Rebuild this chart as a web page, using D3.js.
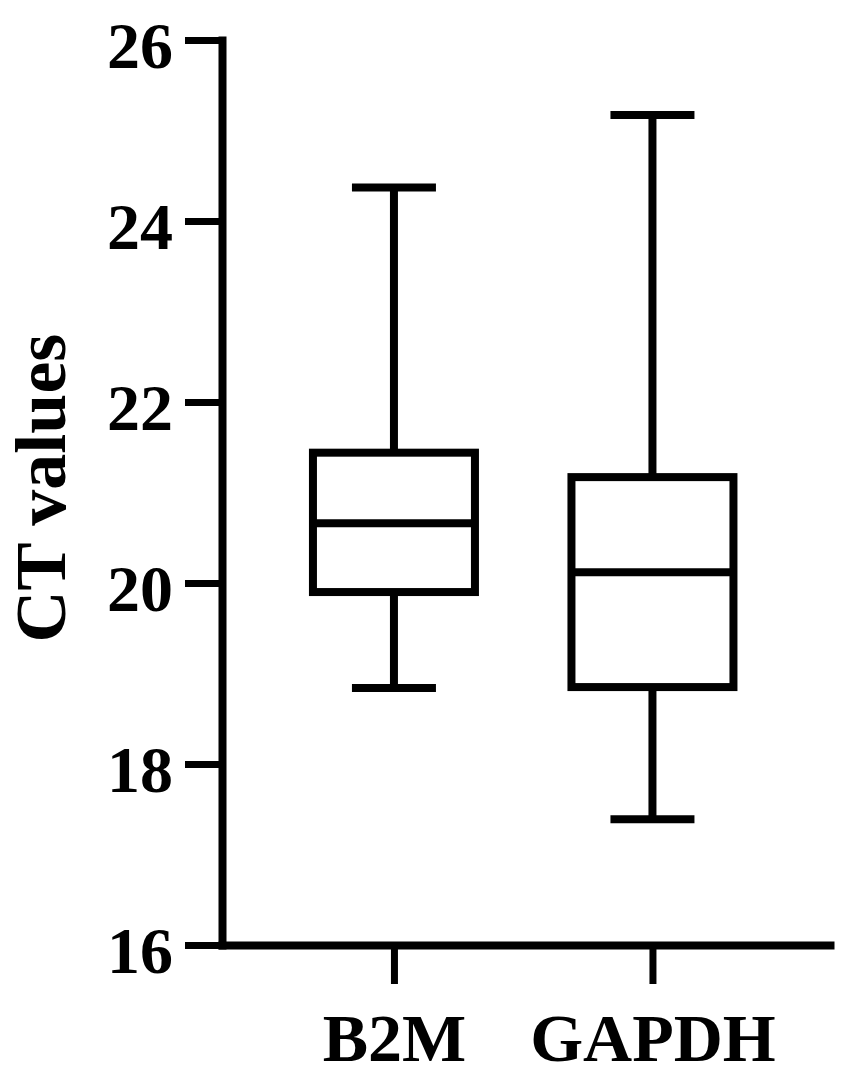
<!DOCTYPE html>
<html>
<head>
<meta charset="utf-8">
<script src="https://cdn.jsdelivr.net/npm/d3@7"></script>
<style>
  html, body { margin: 0; padding: 0; background: #fff; }
  svg { display: block; }
  text { font-family: "Liberation Serif", "Times New Roman", serif; font-weight: bold; fill: #000; }
</style>
</head>
<body>
<svg id="chart" width="841" height="1081"></svg>
<script>
// ---- data ----
const categories = ["B2M", "GAPDH"];
const mins    = [18.84, 17.39];
const q1s     = [19.90, 18.85];
const medians = [20.66, 20.12];
const q3s     = [21.44, 21.17];
const maxs    = [24.37, 25.17];
const yTicks  = [16, 18, 20, 22, 24, 26];
const yLabel  = "CT values";

// ---- layout ----
const svg = d3.select("#chart");
const axisX0 = 222, axisX1 = 830, axisYTop = 40, axisYBottom = 945;
const lw = 8;

const y = d3.scaleLinear().domain([16, 26]).range([axisYBottom, axisYTop]);
const x = d3.scalePoint().domain(categories).range([axisX0, axisX1]).padding(0.676).align(0.492);

const data = categories.map((c, i) => ({
  cat: c, min: mins[i], q1: q1s[i], med: medians[i], q3: q3s[i], max: maxs[i]
}));

const boxHalf = 81, capHalf = 42;

const g = svg.append("g");

data.forEach(d => {
  const cx = x(d.cat);
  // whiskers
  g.append("line").attr("x1", cx).attr("x2", cx).attr("y1", y(d.max)).attr("y2", y(d.q3))
    .attr("stroke", "#000").attr("stroke-width", lw);
  g.append("line").attr("x1", cx).attr("x2", cx).attr("y1", y(d.q1)).attr("y2", y(d.min))
    .attr("stroke", "#000").attr("stroke-width", lw);
  // caps
  [d.max, d.min].forEach(v => {
    g.append("line").attr("x1", cx - capHalf).attr("x2", cx + capHalf).attr("y1", y(v)).attr("y2", y(v))
      .attr("stroke", "#000").attr("stroke-width", lw);
  });
  // box
  g.append("rect").attr("x", cx - boxHalf).attr("y", y(d.q3))
    .attr("width", boxHalf * 2).attr("height", y(d.q1) - y(d.q3))
    .attr("fill", "#fff").attr("stroke", "#000").attr("stroke-width", lw);
  // median
  g.append("line").attr("x1", cx - boxHalf).attr("x2", cx + boxHalf).attr("y1", y(d.med)).attr("y2", y(d.med))
    .attr("stroke", "#000").attr("stroke-width", lw);
});

// ---- axes ----
const yAxis = d3.axisLeft(y).tickValues(yTicks).tickSize(37).tickSizeOuter(0).tickPadding(12).tickFormat(d3.format("d"));
const yG = svg.append("g").attr("transform", `translate(${axisX0},0)`).call(yAxis);
yG.select(".domain").attr("stroke", "#000").attr("stroke-width", lw).attr("stroke-linecap", "square");
yG.selectAll(".tick line").attr("stroke", "#000").attr("stroke-width", 7);
yG.selectAll(".tick text").attr("font-size", 66).attr("dy", "0.41em")
  .style("font-family", "'Liberation Serif', 'Times New Roman', serif").style("font-weight", "bold").attr("fill", "#000");

const xAxis = d3.axisBottom(x).tickSize(39).tickSizeOuter(0).tickPadding(29);
const xG = svg.append("g").attr("transform", `translate(0,${axisYBottom})`).call(xAxis);
xG.select(".domain").attr("stroke", "#000").attr("stroke-width", lw).attr("stroke-linecap", "square");
xG.selectAll(".tick line").attr("stroke", "#000").attr("stroke-width", 7);
xG.selectAll(".tick text").attr("font-size", 68)
  .style("font-family", "'Liberation Serif', 'Times New Roman', serif").style("font-weight", "bold").attr("fill", "#000");

// y label
svg.append("text")
  .attr("transform", `translate(65,${488}) rotate(-90)`)
  .attr("text-anchor", "middle")
  .attr("font-size", 72)
  .text(yLabel);
</script>
</body>
</html>
